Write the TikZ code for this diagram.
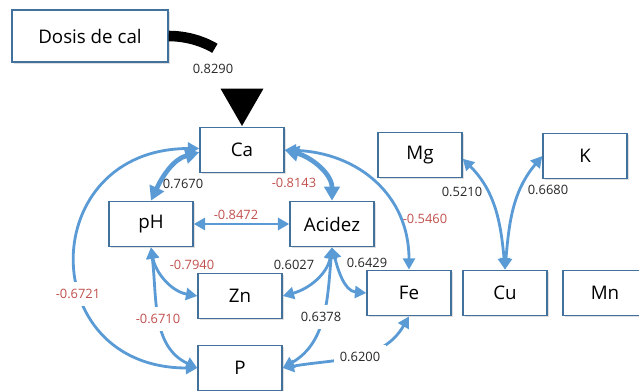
\documentclass[tikz,border=0pt]{standalone}
\usepackage{fontspec}
\setmainfont{Open Sans}
\usetikzlibrary{arrows.meta,shadows}

\definecolor{boxblue}{HTML}{41719C}
\definecolor{linkblue}{HTML}{5B9BD5}
\definecolor{negred}{HTML}{C0504D}

\begin{document}
\begin{tikzpicture}[x=0.03cm, y=0.03cm,
	box/.style={rectangle, draw=boxblue, line width=1.2pt, fill=white, minimum width=2.52cm, minimum height=1.36cm, font=\fontsize{16}{19}\selectfont, drop shadow={opacity=0.25, shadow xshift=1.5pt, shadow yshift=-1.5pt}},
	link/.style={<->, >={Triangle[length=0.34cm, width=0.36cm]}, draw=linkblue, line width=2.4pt},
	thicklink/.style={link, line width=4pt, >={Triangle[length=0.42cm, width=0.46cm]}},
	coef/.style={font=\fontsize{11}{13}\selectfont, text=black!85, inner sep=1pt},
	negcoef/.style={coef, text=negred},
	gap/.style={fill=white, inner xsep=5pt, inner ysep=6pt}]

\useasboundingbox (0, 0) rectangle (639, 391);

\node (dosis) at (90, 355) [box, minimum width=4.68cm, minimum height=1.56cm] {Dosis de cal};
\node (ca) at (242, 241) [box] {Ca};
\node (ph) at (151, 167) [box] {pH};
\node (acidez) at (332, 167) [box] {Acidez};
\node (zn) at (240, 95) [box] {Zn};
\node (p) at (240, 23) [box] {P};
\node (fe) at (409, 98) [box] {Fe};
\node (cu) at (505, 98) [box] {Cu};
\node (mn) at (605, 98) [box] {Mn};
\node (mg) at (420, 236) [box] {Mg};
\node (k) at (585, 235) [box] {K};

% lime dose
\draw[line width=9pt, -{Triangle[length=1.14cm, width=1.2cm]}, dash pattern=on 1.45cm off 4cm] (dosis.east) .. controls +(35, 0) and +(0, 70) .. (ca.north);

\draw[thicklink] (ph.north) to[out=65, in=195] (ca.183);
\draw[thicklink] (ca.east) to[out=-15, in=90] (acidez.north);
\draw[link] (ph) -- (acidez);
\draw[link] (ca.178) to[out=180, in=180, looseness=1.9] (p.west);
\draw[link] (ca.east) to[out=-2, in=90, looseness=1.1] (fe.north);
\draw[link] (ph.south) to[out=-80, in=170] (zn.west);
\draw[link] (ph.south) to[out=-83, in=155] (p.west);
\draw[link] (acidez.south) to[out=-100, in=15] (zn.east);
\draw[link] (acidez.south) to[out=-75, in=175] (fe.west);
\draw[link] (acidez.south) to[out=-95, in=30] (p.east);
\draw[link] (p.east) to[out=10, in=-120] (fe.south);
\draw[link] (cu.north) to[out=95, in=-45] (mg.355);
\draw[link] (cu.north) to[out=85, in=-130] (k.west);

\node (c-dosis) at (213, 322) [coef] {0.8290};
\node (c-ca-ph) at (183, 207) [coef] {0.7670};
\node (c-ca-ac) at (294, 208) [negcoef] {-0.8143};
\node (c-ph-ac) at (236, 176) [negcoef] {-0.8472};
\node (c-ca-fe) at (425, 172) [negcoef] {-0.5460};
\node (c-ca-p) at (78, 97) [negcoef, gap] {-0.6721};
\node (c-ph-zn) at (192, 126) [negcoef] {-0.7940};
\node (c-ph-p) at (158, 72) [negcoef, gap] {-0.6710};
\node (c-ac-zn) at (294, 126) [coef] {0.6027};
\node (c-ac-fe) at (367, 128) [coef] {0.6429};
\node (c-ac-p) at (321, 74) [coef, gap] {0.6378};
\node (c-p-fe) at (360, 34) [coef, gap] {0.6200};
\node (c-cu-mg) at (462, 199) [coef] {0.5210};
\node (c-cu-k) at (548, 201) [coef] {0.6680};

\end{tikzpicture}
\end{document}
